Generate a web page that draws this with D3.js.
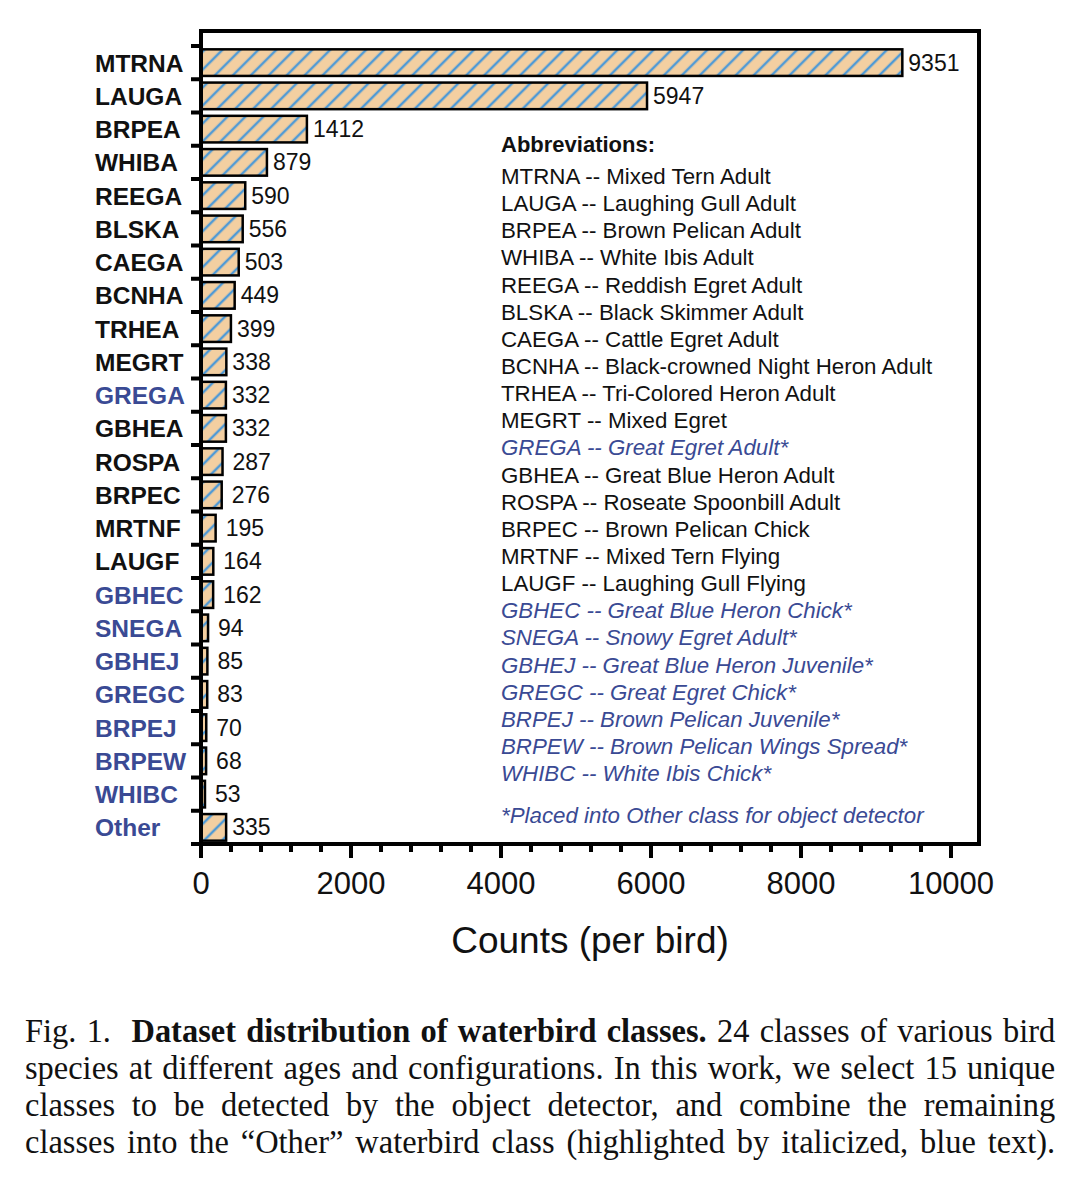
<!DOCTYPE html>
<html>
<head>
<meta charset="utf-8">
<script src="https://cdn.jsdelivr.net/npm/d3@7"></script>
<style>
  body { margin: 0; background: #fff; }
  #chart { position: absolute; left: 0; top: 0; }
  .cap {
    position: absolute; left: 25px; width: 1096px;
    font-family: "Liberation Serif", "Times New Roman", serif;
    font-size: 34.5px; line-height: 37px; color: #111;
    text-align: justify; text-align-last: justify; white-space: nowrap;
    transform: scaleX(0.94); transform-origin: 0 0;
  }
</style>
</head>
<body>
<div id="chart"></div>
<div id="caption"></div>
<script>
// 데이터
const categories = ["MTRNA","LAUGA","BRPEA","WHIBA","REEGA","BLSKA","CAEGA","BCNHA","TRHEA","MEGRT","GREGA","GBHEA","ROSPA","BRPEC","MRTNF","LAUGF","GBHEC","SNEGA","GBHEJ","GREGC","BRPEJ","BRPEW","WHIBC","Other"];
const counts = [9351,5947,1412,879,590,556,503,449,399,338,332,332,287,276,195,164,162,94,85,83,70,68,53,335];
const otherClass = ["GREGA","GBHEC","SNEGA","GBHEJ","GREGC","BRPEJ","BRPEW","WHIBC","Other"];
const fullNames = ["Mixed Tern Adult","Laughing Gull Adult","Brown Pelican Adult","White Ibis Adult","Reddish Egret Adult","Black Skimmer Adult","Cattle Egret Adult","Black-crowned Night Heron Adult","Tri-Colored Heron Adult","Mixed Egret","Great Egret Adult*","Great Blue Heron Adult","Roseate Spoonbill Adult","Brown Pelican Chick","Mixed Tern Flying","Laughing Gull Flying","Great Blue Heron Chick*","Snowy Egret Adult*","Great Blue Heron Juvenile*","Great Egret Chick*","Brown Pelican Juvenile*","Brown Pelican Wings Spread*","White Ibis Chick*"];
const xTicks = [0,2000,4000,6000,8000,10000];
const captionLines = [
  "Fig. 1.&nbsp; <b>Dataset distribution of waterbird classes.</b> 24 classes of various bird",
  "species at different ages and configurations. In this work, we select 15 unique",
  "classes to be detected by the object detector, and combine the remaining",
  "classes into the \u201cOther\u201d waterbird class (highlighted by italicized, blue text)."
];

const blue = "#3a4a94";
const font = "Arial, 'Liberation Sans', Helvetica, sans-serif";

const W = 1080, H = 1000;
const frame = { left: 201, right: 979, top: 31, bottom: 844 };

const svg = d3.select("#chart").append("svg")
  .attr("width", W).attr("height", H)
  .style("font-family", font);

// 해칭 패턴
const defs = svg.append("defs");
const pat = defs.append("pattern")
  .attr("id", "hatch")
  .attr("patternUnits", "userSpaceOnUse")
  .attr("width", 12.7).attr("height", 12.7)
  .attr("patternTransform", "rotate(45)");
pat.append("rect").attr("width", 12.7).attr("height", 12.7).attr("fill", "#f3cfa1");
pat.append("line").attr("x1", 2).attr("y1", 0).attr("x2", 2).attr("y2", 12.7)
  .attr("stroke", "#4f9ad6").attr("stroke-width", 2.5);

// 척도
const x = d3.scaleLinear().domain([0, 10000]).range([frame.left, 951]);
const y = d3.scaleBand().domain(categories)
  .range([46, frame.bottom]).paddingInner(0.2).paddingOuter(0.1);
const step = y.step();

// 프레임 (위/오른쪽)
svg.append("path")
  .attr("d", `M${frame.left},${frame.top}H${frame.right}V${frame.bottom}`)
  .attr("fill", "none").attr("stroke", "#000").attr("stroke-width", 4);

// 막대
svg.selectAll(".bar").data(categories).enter().append("rect")
  .attr("x", x(0))
  .attr("y", d => y(d))
  .attr("width", (d, i) => x(counts[i]) - x(0))
  .attr("height", y.bandwidth())
  .attr("fill", "url(#hatch)")
  .attr("stroke", "#000").attr("stroke-width", 2.5);

// 값 라벨
svg.selectAll(".val").data(categories).enter().append("text")
  .attr("x", (d, i) => x(counts[i]) + (counts[i] < 300 ? 10 : 6))
  .attr("y", d => y(d) + y.bandwidth() / 2 + 8)
  .style("font-size", "23px").style("fill", "#111")
  .text((d, i) => counts[i]);

// Y축
const yEdges = categories.map(d => y(d) - step * 0.1);
svg.selectAll(".ytick").data(yEdges).enter().append("line")
  .attr("x1", frame.left - 10).attr("x2", frame.left)
  .attr("y1", d => d).attr("y2", d => d)
  .attr("stroke", "#000").attr("stroke-width", 4);
svg.append("line")
  .attr("x1", frame.left).attr("x2", frame.left)
  .attr("y1", frame.top - 2).attr("y2", frame.bottom + 2)
  .attr("stroke", "#000").attr("stroke-width", 4);

svg.selectAll(".cat").data(categories).enter().append("text")
  .attr("x", 95)
  .attr("y", d => y(d) + y.bandwidth() / 2 + 9)
  .style("font-size", "24.5px").style("font-weight", "bold")
  .style("fill", d => otherClass.includes(d) ? blue : "#111")
  .text(d => d);

// X축
const xAxis = svg.append("g").attr("transform", `translate(0,${frame.bottom})`);
const minor = d3.range(0, 10001, 400).filter(v => v % 2000 !== 0);
xAxis.selectAll(".minor").data(minor).enter().append("line")
  .attr("x1", d => x(d)).attr("x2", d => x(d))
  .attr("y1", 0).attr("y2", 8)
  .attr("stroke", "#000").attr("stroke-width", 4);
xAxis.selectAll(".major").data(xTicks).enter().append("line")
  .attr("x1", d => x(d)).attr("x2", d => x(d))
  .attr("y1", 0).attr("y2", 14)
  .attr("stroke", "#000").attr("stroke-width", 4);
xAxis.selectAll(".tl").data(xTicks).enter().append("text")
  .attr("x", d => x(d)).attr("y", 50)
  .attr("text-anchor", "middle")
  .style("font-size", "31px").style("fill", "#111")
  .text(d => d);
svg.append("line")
  .attr("x1", frame.left - 10).attr("x2", frame.right + 2)
  .attr("y1", frame.bottom).attr("y2", frame.bottom)
  .attr("stroke", "#000").attr("stroke-width", 4);

svg.append("text")
  .attr("x", (frame.left + frame.right) / 2).attr("y", 953)
  .attr("text-anchor", "middle")
  .style("font-size", "37px").style("fill", "#111")
  .text("Counts (per bird)");

// 범례 (약어)
const lg = svg.append("g").attr("transform", "translate(501,0)");
lg.append("text").attr("y", 152)
  .style("font-size", "22px").style("font-weight", "bold").style("fill", "#111")
  .text("Abbreviations:");
const abbr = categories.slice(0, fullNames.length);
lg.selectAll(".ab").data(abbr).enter().append("text")
  .attr("y", (d, i) => 184 + i * 27.14)
  .style("font-size", "22.3px")
  .style("fill", d => otherClass.includes(d) ? blue : "#111")
  .style("font-style", d => otherClass.includes(d) ? "italic" : "normal")
  .text((d, i) => `${d} -- ${fullNames[i]}`);
lg.append("text").attr("y", 823)
  .style("font-size", "22.3px").style("font-style", "italic").style("fill", blue)
  .text("*Placed into Other class for object detector");

// 캡션
d3.select("#caption").selectAll(".cap").data(captionLines).enter().append("div")
  .attr("class", "cap")
  .style("top", (d, i) => (1012 + i * 37) + "px")
  .html(d => d);
</script>
</body>
</html>
